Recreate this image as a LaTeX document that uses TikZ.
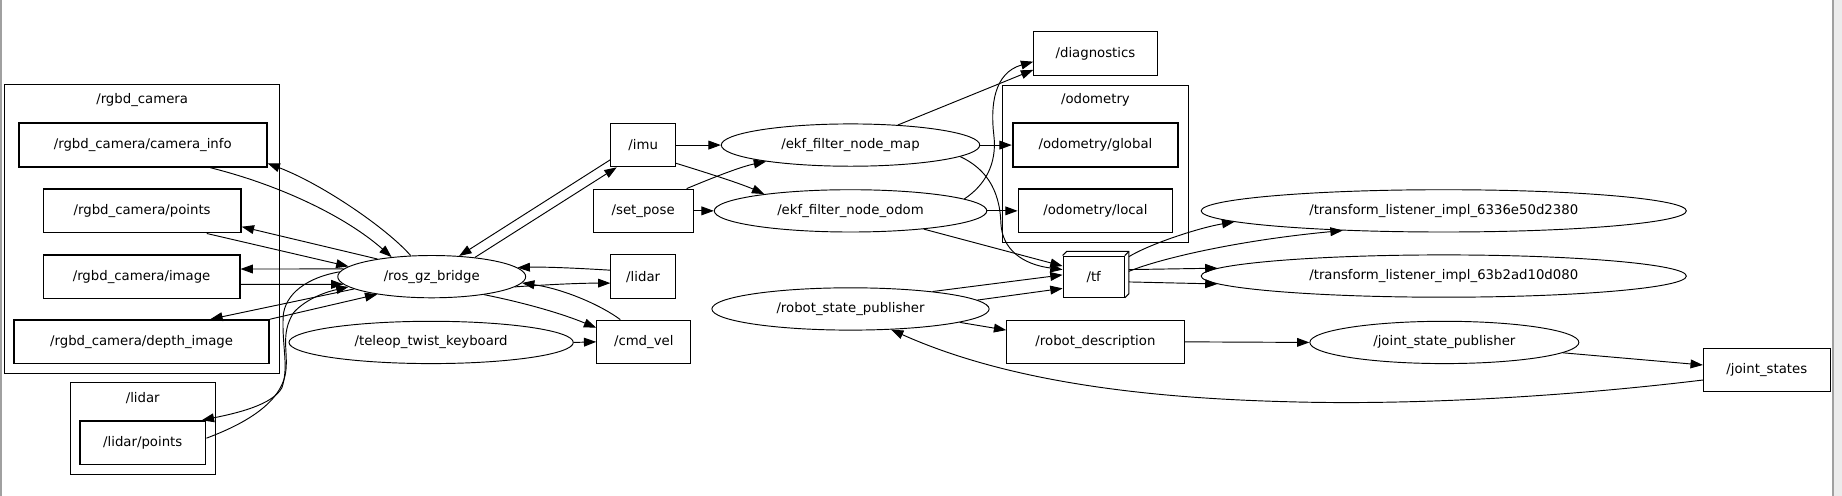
\documentclass[tikz,border=0pt]{standalone}
\usepackage{fontspec}
\setmainfont{DejaVu Sans}
\usepackage{tikz}
\usetikzlibrary{shapes.geometric, arrows.meta}
\definecolor{framegray}{HTML}{A0A0A0}
\definecolor{panelgray}{HTML}{ECECEC}
\tikzset{
  topic/.style={draw, rectangle, line width=0.9pt, minimum height=37pt, inner sep=0pt,
                font=\fontsize{11.3}{13.6}\selectfont},
  nstopic/.style={topic, line width=1.5pt},
  rosnode/.style={draw, ellipse, line width=0.8pt, minimum height=36pt, inner sep=0pt,
                  font=\fontsize{11.3}{13.6}\selectfont},
  ns/.style={draw, line width=0.8pt},
  nslbl/.style={inner sep=0pt, font=\fontsize{11.3}{13.6}\selectfont},
  link/.style={-{Triangle[length=10.5pt,width=7.5pt]}, line width=0.8pt}
}

\begin{document}
\begin{tikzpicture}[x=1pt, y=-1pt]
  \useasboundingbox (0,0) rectangle (1568,422);
  \fill[white] (0,0) rectangle (1568,422);
  \fill[panelgray] (1560,0) rectangle (1568,422);
  \draw[framegray, line width=1.7pt] (1,0) -- (1,422);
  \draw[framegray, line width=1.7pt] (1560,0) -- (1560,422);

  \draw[ns] (4,72) rectangle (238,318);
  \node[nslbl] (lblrgbd) at (121,85) {/rgbd\_camera};
  \draw[ns] (60,326) rectangle (183,404);
  \node[nslbl] (lbllidar) at (121.5,339) {/lidar};
  \draw[ns] (853,73) rectangle (1012,206);
  \node[nslbl] (lblodom) at (932.5,85) {/odometry};

  \node[nstopic, minimum width=211pt] (cinfo) at (121.5,123.5) {/rgbd\_camera/camera\_info};
  \node[nstopic, minimum width=168pt] (cpoints) at (121,179.5) {/rgbd\_camera/points};
  \node[nstopic, minimum width=167pt] (cimage) at (120.5,235.5) {/rgbd\_camera/image};
  \node[nstopic, minimum width=217pt] (cdepth) at (120.5,291) {/rgbd\_camera/depth\_image};
  \node[nstopic, minimum width=107pt] (lpoints) at (121.5,377) {/lidar/points};
  \node[topic, minimum width=55pt] (imu) at (547.5,123.5) {/imu};
  \node[topic, minimum width=85pt] (setpose) at (547.5,179.5) {/set\_pose};
  \node[topic, minimum width=55pt] (lidar) at (547.5,235.5) {/lidar};
  \node[topic, minimum width=80pt] (cmdvel) at (548,291) {/cmd\_vel};
  \node[topic, minimum width=105pt] (diag) at (932.5,45.5) {/diagnostics};
  \node[nstopic, minimum width=141pt] (oglobal) at (932.5,123.5) {/odometry/global};
  \node[nstopic, minimum width=131pt] (olocal) at (932.5,179.5) {/odometry/local};
  \node[topic, minimum width=52pt, minimum height=35pt] (tf) at (931,235.5) {/tf};
  \draw[line width=0.9pt] (tf.north west) -- ++(3.5,-3.5) -- ([shift={(3.5,-3.5)}]tf.north east)
        -- ([shift={(3.5,-3.5)}]tf.south east) -- (tf.south east);
  \draw[line width=0.9pt] (tf.north east) -- ++(3.5,-3.5);
  \node[topic, minimum width=151pt] (rdesc) at (932.5,291) {/robot\_description};
  \node[topic, minimum width=108pt, minimum height=36pt] (jstates) at (1504,315) {/joint\_states};

  \node[rosnode, minimum width=160pt] (bridge) at (367.5,235.5) {/ros\_gz\_bridge};
  \node[rosnode, minimum width=242pt] (teleop) at (367,291.5) {/teleop\_twist\_keyboard};
  \node[rosnode, minimum width=220pt] (ekfmap) at (724,123.5) {/ekf\_filter\_node\_map};
  \node[rosnode, minimum width=232pt] (ekfodom) at (724,179.5) {/ekf\_filter\_node\_odom};
  \node[rosnode, minimum width=236pt] (rsp) at (724,263) {/robot\_state\_publisher};
  \node[rosnode, minimum width=413pt] (tlone) at (1229,179.5) {/transform\_listener\_impl\_6336e50d2380};
  \node[rosnode, minimum width=413pt] (tltwo) at (1229,235) {/transform\_listener\_impl\_63b2ad10d080};
  \node[rosnode, minimum width=229pt] (jsp) at (1229.5,291.5) {/joint\_state\_publisher};

  \draw[link] (bridge.135) .. controls (330,195) and (275,157) .. ([yshift=-15.5pt]cinfo.east);
  \draw[link] ([xshift=57.5pt]cinfo.south) .. controls (240,158) and (295,185) .. (bridge.154);
  \draw[link] (bridge.162) -- ([yshift=-13.5pt]cpoints.east);
  \draw[link] ([xshift=55pt]cpoints.south) -- (bridge.173);
  \draw[link] (bridge.175) -- ([yshift=6.5pt]cimage.east);
  \draw[link] ([yshift=-6.5pt]cimage.east) -- (bridge.185);
  \draw[link] (bridge.189) -- ([xshift=58.5pt]cdepth.north);
  \draw[link] (cdepth.north east) -- (bridge.198);
  \draw[link] (bridge.177) .. controls (262,236) and (242,250) .. (241,270)
        .. controls (240,295) and (246,312) .. (240,330)
        .. controls (232,345) and (200,352) .. ([xshift=-4pt]lpoints.north east);
  \draw[link] ([yshift=4pt]lpoints.east) .. controls (205,362) and (238,345) .. (243,318)
        .. controls (246,300) and (238,285) .. (250,266)
        .. controls (262,253) and (280,248) .. (bridge.187);

  \draw[link] ([yshift=-12.5pt]imu.west) -- (bridge.37);
  \draw[link] (bridge.24) -- ([xshift=-22.5pt]imu.south);
  \draw[link] ([yshift=5.5pt]lidar.west) .. controls (495,228.5) and (465,227) .. (bridge.6);
  \draw[link] (bridge.-7) .. controls (470,242) and (495,241) .. ([yshift=-5.5pt]lidar.west);
  \draw[link] (bridge.-19) .. controls (443,257) and (476,266) .. ([yshift=12pt]cmdvel.west);
  \draw[link] ([xshift=-20pt]cmdvel.north) .. controls (512,260) and (480,246) .. (bridge.-4);
  \draw[link] (teleop.east) -- (cmdvel.west);

  \draw[link] (imu.east) -- (ekfmap.west);
  \draw[link] ([yshift=-15.5pt]imu.east) .. controls (595,145) and (630,156) .. (ekfodom.169);
  \draw[link] ([xshift=37pt]setpose.north) .. controls (605,152) and (630,142) .. (ekfmap.191);
  \draw[link] (setpose.east) -- (ekfodom.west);
  \draw[link] (ekfmap.23) -- ([yshift=-14pt]diag.west);
  \draw[link] (ekfodom.6) .. controls (838,158) and (849,140) .. (846,115)
        .. controls (843,90) and (846,62) .. ([yshift=-7pt]diag.west);
  \draw[link] (ekfmap.east) -- (oglobal.west);
  \draw[link] (ekfodom.east) -- (olocal.west);
  \draw[link] (ekfmap.-6) .. controls (838,143) and (851,160) .. (852,190)
        .. controls (853,212) and (870,225) .. ([yshift=6pt]tf.west);
  \draw[link] (ekfodom.-14) -- ([yshift=9pt]tf.west);

  \draw[link] (rsp.12) -- ([yshift=1.5pt]tf.west);
  \draw[link] (rsp.4) -- ([yshift=-10pt]tf.west);
  \draw[link] (rsp.-7) -- ([yshift=10pt]rdesc.west);
  \draw[link] ([xshift=3.5pt,yshift=17pt]tf.east) .. controls (978,208) and (1020,194) .. (tlone.183);
  \draw[link] ([xshift=3.5pt,yshift=4.5pt]tf.east) .. controls (985,221) and (1050,205) .. (tlone.191);
  \draw[link] ([xshift=3.5pt,yshift=6pt]tf.east) -- (tltwo.178);
  \draw[link] ([xshift=3.5pt,yshift=-4.5pt]tf.east) -- (tltwo.182);
  \draw[link] (rdesc.east) -- (jsp.west);
  \draw[link] (jsp.-5) -- ([yshift=4.3pt]jstates.west);
  \draw[link] ([yshift=-8.5pt]jstates.west) .. controls (1330,338) and (1200,345) .. (1097,342)
        .. controls (980,339) and (860,326) .. (rsp.-27);
\end{tikzpicture}
\end{document}
